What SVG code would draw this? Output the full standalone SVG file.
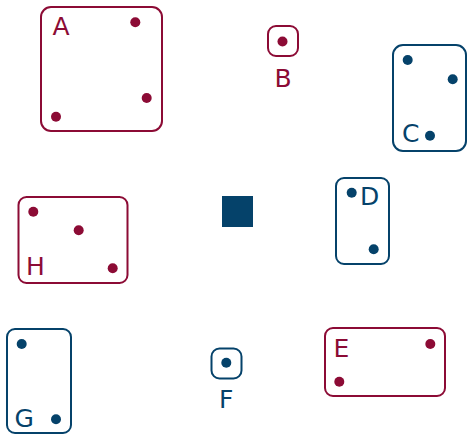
<svg xmlns="http://www.w3.org/2000/svg" width="467" height="435" viewBox="0 0 467 435">
<style>
.r{fill:none;stroke:#8c0b35;stroke-width:2}
.b{fill:none;stroke:#05426a;stroke-width:2}
.rd{fill:#8c0b35}
.bd{fill:#05426a}
text{font-family:"DejaVu Sans",sans-serif;font-size:25px}
.rt{fill:#8c0b35}
.bt{fill:#05426a}
</style>
<rect width="467" height="435" fill="#fff"/>
<g id="A">
<rect class="r" x="41" y="7" width="121" height="124" rx="10"/>
<circle class="rd" cx="135.3" cy="22.3" r="5"/>
<circle class="rd" cx="146.7" cy="98" r="5"/>
<circle class="rd" cx="56" cy="116.7" r="5"/>
<text class="rt" x="52.5" y="34.5">A</text>
</g>
<g id="B">
<rect class="r" x="268" y="26" width="30" height="30" rx="8"/>
<circle class="rd" cx="282.5" cy="41.5" r="5"/>
<text class="rt" x="283" y="86.5" text-anchor="middle">B</text>
</g>
<g id="C">
<rect class="b" x="393" y="45" width="73" height="106" rx="10"/>
<circle class="bd" cx="407.7" cy="60" r="5"/>
<circle class="bd" cx="452.7" cy="79.3" r="5"/>
<circle class="bd" cx="430" cy="135.7" r="5"/>
<text class="bt" x="402" y="142">C</text>
</g>
<g id="H">
<rect class="r" x="18.5" y="197" width="109" height="86" rx="8"/>
<circle class="rd" cx="33.3" cy="211.7" r="5"/>
<circle class="rd" cx="78.7" cy="230.3" r="5"/>
<circle class="rd" cx="112.7" cy="268.3" r="5"/>
<text class="rt" x="26" y="275">H</text>
</g>
<g id="center">
<rect class="bd" x="222" y="196" width="31" height="31"/>
</g>
<g id="D">
<rect class="b" x="336" y="178" width="53" height="86" rx="8"/>
<circle class="bd" cx="351.7" cy="192.7" r="5"/>
<circle class="bd" cx="373.7" cy="249.3" r="5"/>
<text class="bt" x="360" y="205">D</text>
</g>
<g id="G">
<rect class="b" x="7" y="329" width="64" height="104" rx="8"/>
<circle class="bd" cx="21.7" cy="344" r="5"/>
<circle class="bd" cx="56" cy="419.3" r="5"/>
<text class="bt" x="14.5" y="426.5">G</text>
</g>
<g id="F">
<rect class="b" x="211.5" y="348.5" width="30" height="30" rx="8"/>
<circle class="bd" cx="226.3" cy="362.7" r="5"/>
<text class="bt" x="226.3" y="408.3" text-anchor="middle">F</text>
</g>
<g id="E">
<rect class="r" x="325" y="328" width="120" height="68" rx="8"/>
<circle class="rd" cx="430.3" cy="344" r="5"/>
<circle class="rd" cx="339.3" cy="381.7" r="5"/>
<text class="rt" x="333.5" y="356.7">E</text>
</g>
<g id="connectors"></g>
</svg>
